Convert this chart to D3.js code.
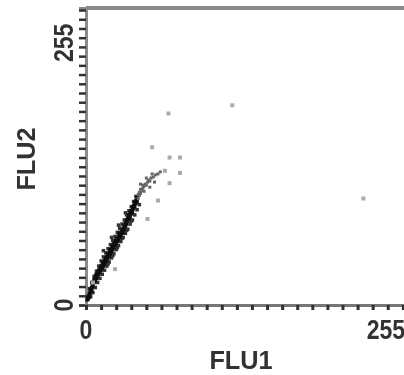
<!DOCTYPE html>
<html>
<head>
<meta charset="utf-8">
<script src="https://cdn.jsdelivr.net/npm/d3@7"></script>
<style>
  body { margin: 0; background: #fff; }
  svg { display: block; }
  .lbl { font-family: "Liberation Sans", Arial, sans-serif; font-weight: bold; fill: #333; }
</style>
</head>
<body>
<div id="chart"></div>
<script>
// --- data (FLU1, FLU2) ---
const bandPoints = [
  [1,5],[1.5,7],[2,6],[2,9],[3,8],[3,11],[3.5,13],[4,12],[4,15],[5,14],[5,17],[5.5,19],[6,18],[6,21],[6.5,23],[7,22],[7,25],
  [8,24],[8,27],[8.5,29],[9,26],[9,30],[10,28],[10,31],[10.5,33],[11,30],[11,34],[12,32],[12,35],[12.5,37],[13,34],[13,38],[14,36],[14,39],[14.5,41],[15,38],[15,42],
  [16,40],[16,43],[16.5,45],[17,42],[17,46],[18,44],[18,47],[18.5,49],[19,46],[19,50],[20,48],[20,51],[20.5,53],[21,50],[21,54],[22,52],[22,55],[22.5,57],[23,54],[23,58],
  [24,56],[24,60],[25,58],[25,61],[25.5,63],[26,60],[26,64],[27,62],[27,65],[28,64],[28,67],[28.5,69],[29,66],[29,70],[30,68],[30,71],[31,70],[31,73],[32,71],[32,75],
  [33,74],[33,78],[34,77],[34,80],[35,79],[35,83],[36,82],[36,85],[37,84],[37,88],[38,86],[38,90],[39,89],[39,92],[40,91],[40,95],[41,94],[41,97],[42,96],[42,100],[43,99],[43,102],[44,101],[44,105]
];
// points on either side of the main band
const bandEdge = [
  [4,8],[6,12],[8,17],[10,22],[12,26],[14,30],[16,34],[18,38],[20,42],[22,46],[24,50],[26,54],[28,58],[30,62],[32,66],[34,70],[36,74],[38,79],[40,83],[42,88],[44,93],[46,98],
  [3,16],[5,22],[7,28],[9,33],[11,38],[13,43],[15,47],[17,51],[19,55],[21,59],[23,63],[25,67],[27,71],[29,75],[31,79],[33,83],[35,88],[37,92],[39,96],[41,101],[43,106],
  [19,40],[23,48],[27,56],[31,65],[35,73],[39,82],[15,53],[22,66],[28,78],[34,90]
];
const tailPoints = [
  [45,104],[45,108],[46,107],[46,110],[47,109],[47,113],[48,112],[49,114],[49,117],[50,116],[51,118],[52,117],[53,120],[54,122],[55,121],[56,124],[58,125],[60,127],[62,128],[64,130],
  [47,118],[50,111],[52,124],[55,115],[57,128],[59,120]
];
const outliers = [
  [57,154],[72,144],[81,144],[81,129],[72,119],[68,131],[62,102],[53,84],[25,35],[6,22],[71,187],[126,195],[239,104]
];
const xTickLabels = ["0", "255"];
const yTickLabels = ["0", "255"];
const xTitle = "FLU1";
const yTitle = "FLU2";

const W = 404, H = 375;

const x = d3.scaleLinear().domain([0, 274]).range([86, 404]);
const y = d3.scaleLinear().domain([0, 290]).range([305, 8]);

const svg = d3.select("#chart").append("svg")
  .attr("width", W).attr("height", H);

const defs = svg.append("defs");
defs.append("filter").attr("id", "soft")
  .append("feGaussianBlur").attr("stdDeviation", 0.55);

const g = svg.append("g").attr("filter", "url(#soft)");

// top frame line
g.append("line")
  .attr("x1", x(0)).attr("x2", W)
  .attr("y1", y(290)).attr("y2", y(290))
  .attr("stroke", "#8a8a8a").attr("stroke-width", 4);

// y axis
const yAxis = d3.axisLeft(y)
  .tickValues(d3.range(0, 290, 9))
  .tickSize(7).tickFormat("");
const yg = g.append("g").attr("transform", `translate(${x(0)},0)`).call(yAxis);
yg.select(".domain").attr("stroke", "#8a8a8a").attr("stroke-width", 3);
yg.selectAll(".tick line").attr("stroke", "#333").attr("stroke-width", 2.5);

// x axis
const xAxis = d3.axisBottom(x)
  .tickValues(d3.range(0, 274, 13))
  .tickSize(5).tickFormat("");
const xg = g.append("g").attr("transform", `translate(0,${y(0)})`).call(xAxis);
xg.select(".domain").attr("stroke", "#777").attr("stroke-width", 3);
xg.selectAll(".tick line").attr("stroke", "#333").attr("stroke-width", 3);

// tick labels
const yVals = [0, 255];
yTickLabels.forEach((t, i) => {
  g.append("text").attr("class", "lbl")
    .attr("transform", `translate(73,${y(yVals[i]) + (i ? -1 : 0)}) rotate(-90) scale(1.05,1.25)`)
    .attr("text-anchor", "middle")
    .style("font-size", "22px")
    .text(t);
});
const xVals = [0, 255];
xTickLabels.forEach((t, i) => {
  g.append("text").attr("class", "lbl")
    .attr("transform", `translate(${x(xVals[i]) + (i ? 4 : 0)},339) scale(1.05,1.25)`)
    .attr("text-anchor", "middle")
    .style("font-size", "22px")
    .text(t);
});

// axis titles
g.append("text").attr("class", "lbl")
  .attr("transform", `translate(241,369) scale(1.15,1.2)`)
  .attr("text-anchor", "middle")
  .style("font-size", "22px")
  .text(xTitle);
g.append("text").attr("class", "lbl")
  .attr("transform", `translate(35,159) rotate(-90) scale(1.15,1.2)`)
  .attr("text-anchor", "middle")
  .style("font-size", "22px")
  .text(yTitle);

// points
const s = 3.5;
g.append("g").selectAll("rect").data(bandEdge).join("rect")
  .attr("x", d => x(d[0]) - s / 2).attr("y", d => y(d[1]) - s / 2)
  .attr("width", s).attr("height", s)
  .attr("fill", "#333");
g.append("g").selectAll("rect").data(bandPoints).join("rect")
  .attr("x", d => x(d[0]) - s / 2).attr("y", d => y(d[1]) - s / 2)
  .attr("width", s).attr("height", s)
  .attr("fill", "#111");
g.append("g").selectAll("rect").data(tailPoints).join("rect")
  .attr("x", d => x(d[0]) - 1.5).attr("y", d => y(d[1]) - 1.5)
  .attr("width", 3).attr("height", 3)
  .attr("fill", "#666");
g.append("g").selectAll("rect").data(outliers).join("rect")
  .attr("x", d => x(d[0]) - 2).attr("y", d => y(d[1]) - 2)
  .attr("width", 4).attr("height", 4)
  .attr("fill", "#aaa");
</script>
</body>
</html>
